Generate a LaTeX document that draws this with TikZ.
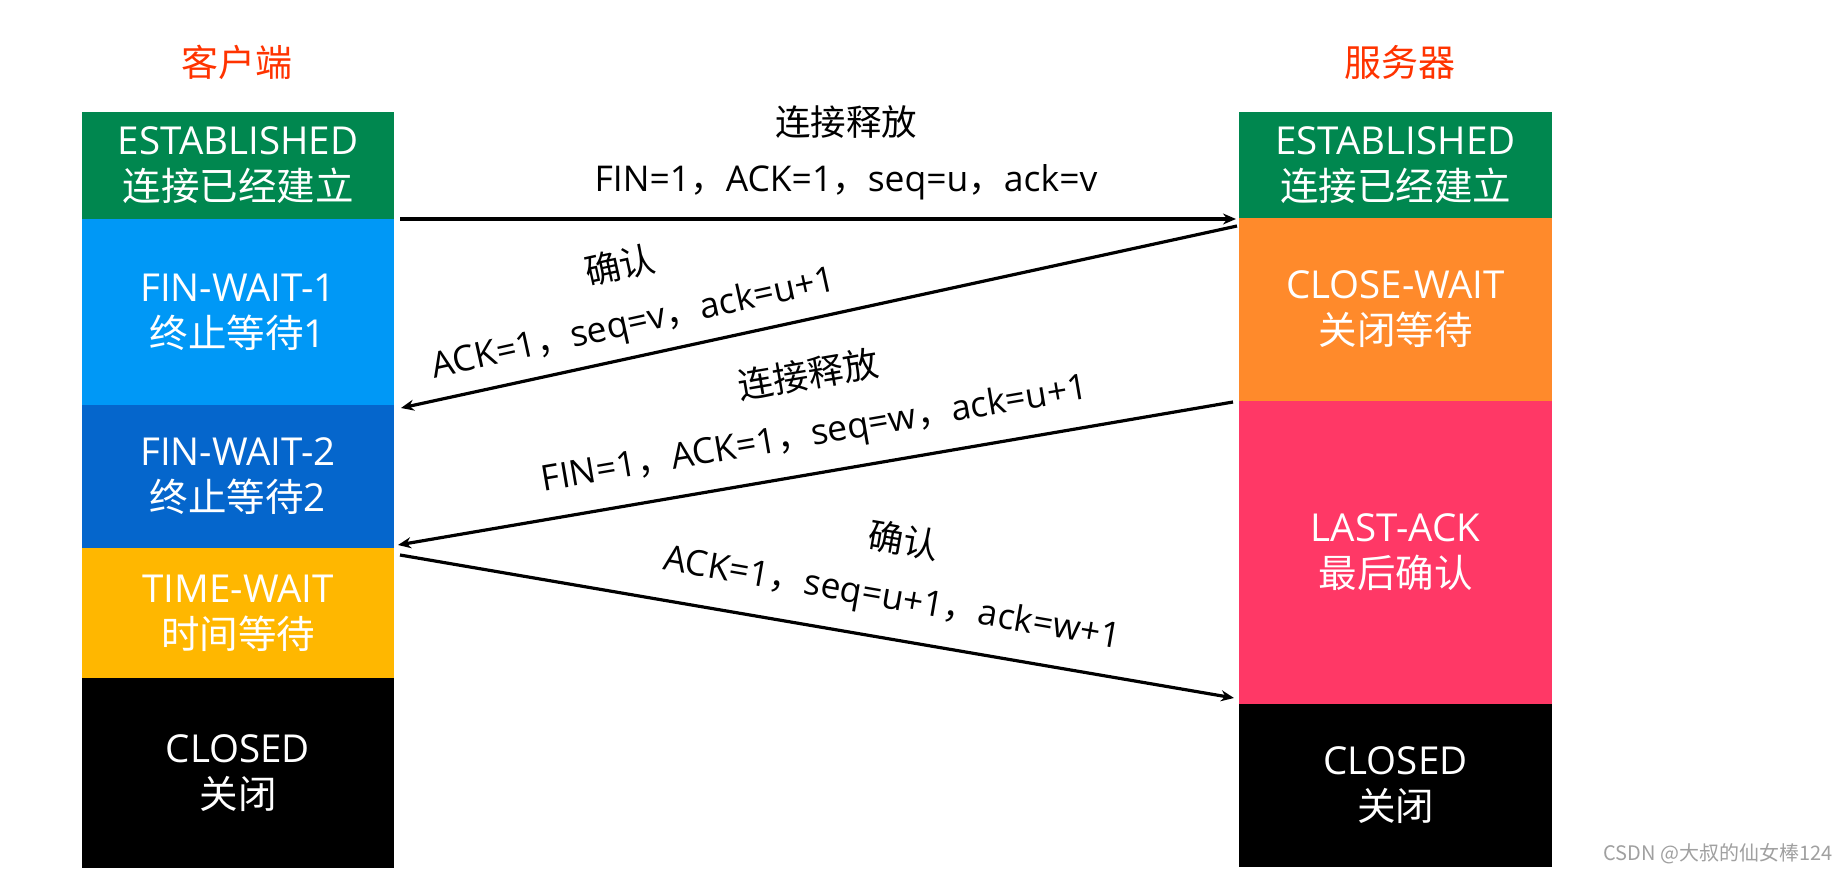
\documentclass[tikz,border=0pt]{standalone}
\usepackage{fontspec}
\setmainfont{Open Sans}
\newfontfamily\zh{Noto Sans CJK SC}
\usetikzlibrary{arrows.meta,calc}
\definecolor{estgreen}{HTML}{00874F}
\definecolor{fw1blue}{HTML}{0098F6}
\definecolor{fw2blue}{HTML}{0566CC}
\definecolor{twyellow}{HTML}{FFB700}
\definecolor{cworange}{HTML}{FF8A2B}
\definecolor{lapink}{HTML}{FF3866}
\definecolor{titlered}{HTML}{FF3300}
\definecolor{wmgray}{HTML}{A0A0A0}
\begin{document}
\begin{tikzpicture}[x=1pt,y=-1pt,
  state/.style={rectangle, inner sep=0pt, text=white, align=center,
    font=\fontsize{38.5}{46}\selectfont},
  cstate/.style={state, minimum width=312pt},
  sstate/.style={state, minimum width=313pt},
  msg/.style={line width=3.2pt, -{Stealth[length=13pt,width=11pt]}},
  lbl/.style={inner sep=0pt, font=\fontsize{35.5}{40}\selectfont, text=black},
  ttl/.style={font=\zh\fontsize{37}{40}\selectfont, text=titlered}]
\useasboundingbox (0,0) rectangle (1847,874);
\fill[white] (0,0) rectangle (1847,874);

% titles
\node[ttl] (tc) at (237,62) {客户端};
\node[ttl] (ts) at (1400,62) {服务器};

% client states
\node[cstate, fill=estgreen, minimum height=107pt] (c1) at (238,165.5) {ESTABLISHED\\{\zh 连接已经建立}};
\node[cstate, fill=fw1blue, minimum height=186pt] (c2) at (238,312) {FIN-WAIT-1\\{\zh 终止等待}1};
\node[cstate, fill=fw2blue, minimum height=143pt] (c3) at (238,476.5) {FIN-WAIT-2\\{\zh 终止等待}2};
\node[cstate, fill=twyellow, minimum height=130pt] (c4) at (238,613) {TIME-WAIT\\{\zh 时间等待}};
\node[cstate, fill=black, minimum height=190pt] (c5) at (238,773) {CLOSED\\{\zh 关闭}};

% server states
\node[sstate, fill=estgreen, minimum height=106pt] (s1) at (1395.5,165) {ESTABLISHED\\{\zh 连接已经建立}};
\node[sstate, fill=cworange, minimum height=183pt] (s2) at (1395.5,309.5) {CLOSE-WAIT\\{\zh 关闭等待}};
\node[sstate, fill=lapink, minimum height=303pt] (s3) at (1395.5,552.5) {LAST-ACK\\{\zh 最后确认}};
\node[sstate, fill=black, minimum height=163pt] (s4) at (1395.5,785.5) {CLOSED\\{\zh 关闭}};

% arrow end points
\coordinate (m1a) at (400,219);
\coordinate (m1b) at (1236,219);
\coordinate (m2a) at (1237,226);
\coordinate (m2b) at (401,408);
\coordinate (m3a) at (1233,402);
\coordinate (m3b) at (398,545);
\coordinate (m4a) at (400,555);
\coordinate (m4b) at (1234,698);

\draw[msg] (m1a) -- (m1b);
\draw[msg] (m2a) -- (m2b);
\draw[msg] (m3a) -- (m3b);
\draw[msg] (m4a) -- (m4b);

% labels
\node[lbl] (l1a) at (846,122) {\zh 连接释放};
\node[lbl] (l1b) at (846,182) {FIN=1{\zh ，}ACK=1{\zh ，}seq=u{\zh ，}ack=v};

\node[lbl, rotate=12.4] (l2a) at (620,265) {\zh 确认};
\node[lbl, rotate=12.4] (l2b) at (634,325) {ACK=1{\zh ，}seq=v{\zh ，}ack=u+1};

\node[lbl, rotate=9.7] (l3a) at (808,374) {\zh 连接释放};
\node[lbl, rotate=9.7] (l3b) at (815,436) {FIN=1{\zh ，}ACK=1{\zh ，}seq=w{\zh ，}ack=u+1};

\node[lbl, rotate=-9.8] (l4a) at (904,540) {\zh 确认};
\node[lbl, rotate=-9.8] (l4b) at (892,600) {ACK=1{\zh ，}seq=u+1{\zh ，}ack=w+1};

% watermark
\node[font=\zh\fontsize{20}{24}\selectfont, text=wmgray, inner sep=0pt] (wm) at (1718,854) {CSDN @大叔的仙女棒124};
\end{tikzpicture}
\end{document}
